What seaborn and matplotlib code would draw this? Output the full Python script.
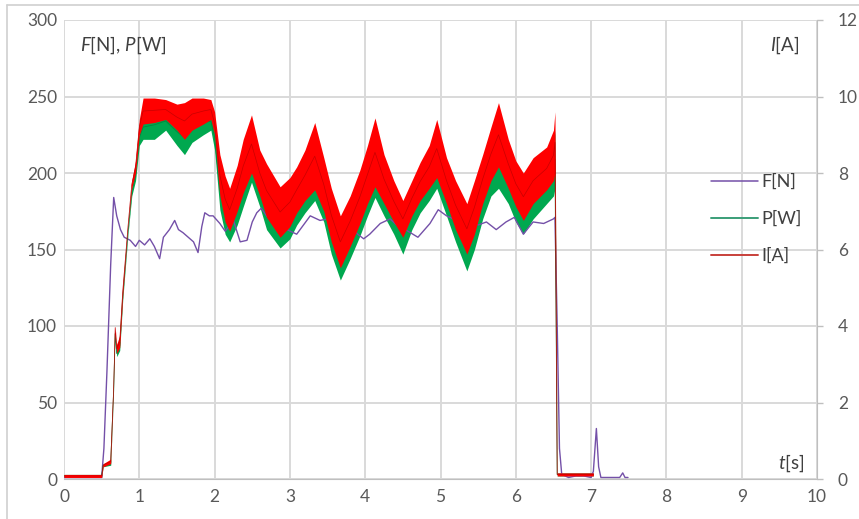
import pandas as pd
import seaborn as sns
import matplotlib.pyplot as plt
from matplotlib.lines import Line2D

sns.set_style('white')
plt.rcParams['font.family'] = ['Lato', 'DejaVu Sans']
plt.rcParams['mathtext.fontset'] = 'custom'
plt.rcParams['mathtext.rm'] = 'Lato'
plt.rcParams['mathtext.it'] = 'Lato:italic'

# force F[N]
f_t = [0.0, 0.50, 0.53, 0.57, 0.62, 0.66, 0.70, 0.75, 0.80, 0.88, 0.95, 1.00, 1.07, 1.14,
       1.20, 1.27, 1.32, 1.40, 1.47, 1.52, 1.58, 1.65, 1.72, 1.78, 1.83, 1.87, 1.93, 1.98,
       2.07, 2.14, 2.25, 2.34, 2.43, 2.50, 2.56, 2.62, 2.69, 2.80, 2.96, 3.09, 3.18, 3.27,
       3.40, 3.50, 3.60, 3.71, 3.80, 3.90, 3.98, 4.06, 4.20, 4.33, 4.42, 4.50, 4.60, 4.70,
       4.86, 4.97, 5.08, 5.22, 5.39, 5.50, 5.61, 5.74, 5.87, 5.98, 6.10, 6.23, 6.37, 6.50,
       6.52, 6.55, 6.58, 6.61, 6.70, 6.80, 6.90, 7.00, 7.03, 7.07, 7.10, 7.13, 7.25, 7.38,
       7.42, 7.45, 7.49]
f_v = [1, 1, 20, 70, 140, 184, 172, 163, 158, 156, 152, 156, 153, 157,
       152, 144, 158, 163, 169, 163, 161, 158, 155, 148, 165, 174, 172, 172,
       167, 162, 169, 155, 156, 168, 174, 177, 172, 166, 163, 160, 166, 172,
       169, 170, 167, 172, 166, 160, 157, 160, 167, 170, 166, 164, 161, 158,
       167, 176, 172, 169, 169, 166, 168, 163, 168, 171, 160, 168, 167, 170,
       171, 100, 20, 3, 1, 2, 2, 1, 5, 33, 8, 1, 1, 1,
       4, 1, 1]

# power P[W] and current I[A]: lower / upper envelope of the noisy traces
band_t = [0.0, 0.50, 0.52, 0.62, 0.66, 0.68, 0.70, 0.74, 0.78, 0.85, 0.90, 0.95, 1.00, 1.05,
          1.20, 1.35, 1.50, 1.60, 1.70, 1.85, 1.95, 2.00, 2.07, 2.14, 2.20, 2.30, 2.38, 2.49,
          2.60, 2.69, 2.87, 3.00, 3.09, 3.20, 3.33, 3.45, 3.55, 3.67, 3.80, 3.93, 4.03, 4.13,
          4.25, 4.38, 4.50, 4.62, 4.73, 4.85, 4.95, 5.08, 5.20, 5.35, 5.45, 5.56, 5.67, 5.77,
          5.90, 6.00, 6.10, 6.23, 6.41, 6.50, 6.52, 6.55, 7.03]
p_lo = [1, 1, 8, 9, 58, 95, 80, 84, 117, 160, 185, 195, 218, 222,
        222, 228, 218, 212, 220, 225, 228, 215, 176, 160, 155, 166, 178, 194,
        178, 163, 151, 157, 166, 174, 182, 168, 147, 130, 144, 159, 172, 184,
        172, 160, 147, 163, 174, 182, 190, 172, 155, 136, 150, 170, 185, 190,
        180, 168, 160, 170, 180, 185, 190, 2, 2]
p_hi = [3, 3, 10, 12, 58, 95, 84, 90, 121, 162, 190, 203, 228, 238,
        241, 240, 236, 234, 238, 241, 240, 232, 203, 190, 182, 196, 212, 226,
        206, 197, 182, 188, 195, 205, 220, 200, 180, 163, 176, 192, 208, 224,
        202, 186, 173, 186, 198, 208, 223, 200, 186, 170, 185, 202, 220, 234,
        212, 198, 190, 200, 207, 217, 228, 4, 4]
i_lo = [0.04, 0.04, 0.32, 0.40, 2.40, 3.96, 3.28, 3.44, 4.80, 6.60, 7.60, 8.00, 9.00, 9.28,
        9.32, 9.40, 9.12, 8.88, 9.12, 9.28, 9.40, 9.00, 7.40, 6.72, 6.48, 7.00, 7.48, 8.00,
        7.40, 6.84, 6.32, 6.60, 6.96, 7.28, 7.56, 7.00, 6.20, 5.52, 6.08, 6.68, 7.20, 7.64,
        7.20, 6.72, 6.32, 6.88, 7.28, 7.60, 7.88, 7.20, 6.52, 5.88, 6.40, 7.20, 7.80, 8.16,
        7.60, 7.12, 6.76, 7.20, 7.56, 7.80, 8.00, 0.08, 0.08]
i_hi = [0.12, 0.12, 0.40, 0.52, 2.40, 3.96, 3.52, 3.76, 5.00, 6.60, 7.80, 8.32, 9.40, 9.96,
        9.96, 9.92, 9.80, 9.84, 9.96, 9.96, 9.92, 9.60, 8.48, 7.92, 7.60, 8.20, 8.88, 9.52,
        8.60, 8.24, 7.64, 7.88, 8.16, 8.60, 9.32, 8.40, 7.60, 6.88, 7.40, 8.08, 8.72, 9.44,
        8.48, 7.80, 7.28, 7.80, 8.28, 8.72, 9.40, 8.40, 7.80, 7.20, 7.80, 8.48, 9.20, 9.84,
        8.88, 8.32, 8.00, 8.40, 8.68, 9.12, 9.60, 0.16, 0.16]

x_ticks = [0, 1, 2, 3, 4, 5, 6, 7, 8, 9, 10]
left_ticks = [0, 50, 100, 150, 200, 250, 300]
right_ticks = [0, 2, 4, 6, 8, 10, 12]

df_f = pd.DataFrame({'t': f_t, 'F': f_v})
df_p = pd.DataFrame({'t': band_t + band_t, 'P': p_lo + p_hi})
df_i = pd.DataFrame({'t': band_t + band_t, 'I': i_lo + i_hi})

purple = '#7450a8'
green = '#00a84f'
red = '#ff0000'
grid_c = '#d9d9d9'
text_c = '#595959'

fig = plt.figure(figsize=(8.59, 5.19), dpi=100)
ax = fig.add_axes([64 / 859, 40 / 519, 753 / 859, 459 / 519])
ax2 = ax.twinx()

sns.lineplot(data=df_f, x='t', y='F', ax=ax, color=purple, linewidth=1.0)
sns.lineplot(data=df_p, x='t', y='P', ax=ax, color=green, linewidth=0.6,
             errorbar=('pi', 100), err_kws={'alpha': 1, 'linewidth': 0})
ax.lines[-1].set_color('#008a3e')
sns.lineplot(data=df_i, x='t', y='I', ax=ax2, color=red, linewidth=0.5,
             errorbar=('pi', 100), err_kws={'alpha': 1, 'linewidth': 0})
ax2.lines[-1].set_color('#c80000')

ax.set_xlim(0, 10)
ax.set_ylim(0, 300)
ax2.set_ylim(0, 12)
ax.set_xticks(x_ticks)
ax.set_yticks(left_ticks)
ax2.set_yticks(right_ticks)
ax.set_xlabel('')
ax.set_ylabel('')
ax2.set_ylabel('')

ax.grid(True, color=grid_c, linewidth=1.4)
ax.set_axisbelow(True)
ax2.grid(False)

for a in (ax, ax2):
    for s in a.spines.values():
        s.set_visible(False)
ax2.spines['right'].set_visible(True)
ax2.spines['right'].set_color('#bfbfbf')
ax2.spines['bottom'].set_visible(True)
ax2.spines['bottom'].set_color('#bfbfbf')

ax.tick_params(axis='x', length=0, pad=7, labelsize=12.5, labelcolor=text_c)
ax.tick_params(axis='y', length=0, pad=5, labelsize=12.5, labelcolor=text_c)
ax2.tick_params(axis='y', length=4, width=1, color='#bfbfbf', pad=11,
                labelsize=12.5, labelcolor=text_c)

ax.text(0.021, 0.946, '$F$[N], $P$[W]', transform=ax.transAxes, fontsize=13.5,
        color='#404040', ha='left', va='center')
ax.text(0.977, 0.946, '$I$[A]', transform=ax.transAxes, fontsize=13.5,
        color='#404040', ha='right', va='center')
ax.text(0.984, 0.035, '$t$[s]', transform=ax.transAxes, fontsize=13.5,
        color='#404040', ha='right', va='center')

handles = [Line2D([], [], color=purple, linewidth=1.1),
           Line2D([], [], color='#3a9e78', linewidth=1.4),
           Line2D([], [], color='#c8403a', linewidth=1.4)]
ax2.legend(handles, ['F[N]', 'P[W]', 'I[A]'], loc='upper left',
           bbox_to_anchor=(0.838, 0.70), frameon=False, fontsize=13,
           handlelength=2.6, handletextpad=0.15, labelspacing=1.15,
           labelcolor='#404040')

fig.add_artist(Line2D([7 / 859, 1], [1 - 5 / 519, 1 - 5 / 519],
                      color='#d0d0d0', linewidth=1.2))
fig.add_artist(Line2D([7 / 859, 7 / 859], [0, 1 - 5 / 519],
                      color='#d0d0d0', linewidth=1.2))

fig.savefig('out.png', dpi=100)
